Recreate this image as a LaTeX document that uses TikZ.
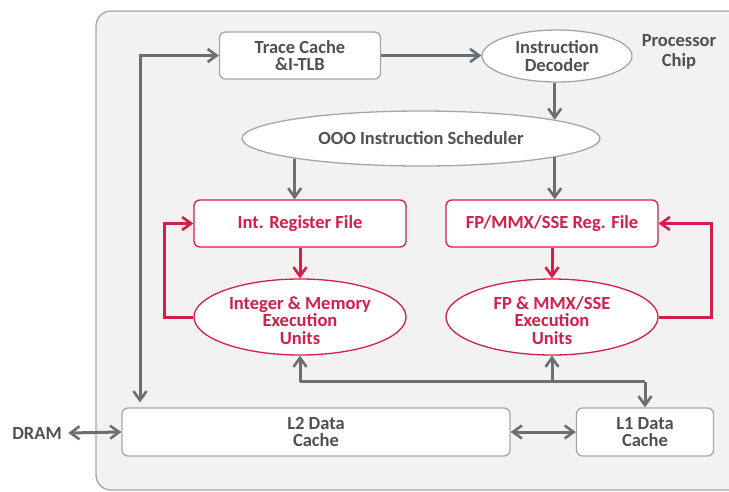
\documentclass[tikz,border=0pt]{standalone}
\usepackage{fontspec}
\setmainfont{Carlito}[BoldFont={Carlito Bold}]
\usetikzlibrary{arrows.meta,shapes.geometric}
\definecolor{chipfill}{HTML}{F2F2F2}
\definecolor{chipline}{HTML}{A6A6A6}
\definecolor{flow}{HTML}{6B6E73}
\definecolor{hot}{HTML}{D41F48}
\definecolor{txt}{HTML}{505050}

\begin{document}
\begin{tikzpicture}[x=1pt,y=-1pt,
  lbl/.style={font=\fontsize{18.5}{17.2}\selectfont\bfseries, text=txt, align=center},
  box/.style={lbl, draw=chipline, fill=white, rounded corners=6pt, line width=1.3pt, inner sep=0pt},
  oval/.style={lbl, ellipse, draw=chipline, fill=white, line width=1.3pt, inner sep=0pt},
  hotbox/.style={box, draw=hot, text=hot},
  hotoval/.style={oval, draw=hot, text=hot},
  tip/.tip={Straight Barb[length=9pt,width=13pt,line width=2.6pt]},
  link/.style={draw=flow, line width=3pt, -tip},
  linkboth/.style={draw=flow, line width=3pt, tip-tip},
  hotlink/.style={draw=hot, line width=3pt, -tip},
]
\useasboundingbox (0,0) rectangle (729,491);
\begin{scope}
  \clip (0,0) rectangle (729,491);
  % chip outline
  \draw[draw=chipline, fill=chipfill, rounded corners=15pt, line width=1.3pt]
    (96,11) rectangle (760,490);
\end{scope}

% blocks
\node[box, minimum width=161, minimum height=47] (tc) at (300,55.5) {Trace Cache\\\&I-TLB};
\node[oval, minimum width=150, minimum height=52] (dec) at (557,56) {Instruction\\Decoder};
\node[lbl] (chip) at (679,52) {Processor\\[3.5pt]Chip};
\node[oval, minimum width=358, minimum height=55] (ooo) at (421,138.5) {OOO Instruction Scheduler};
\node[hotbox, minimum width=212, minimum height=47] (irf) at (300,223.5) {Int. Register File};
\node[hotbox, minimum width=212, minimum height=47] (frf) at (552,223.5) {FP/MMX/SSE Reg. File};
\node[hotoval, minimum width=212, minimum height=76] (iex) at (300,317) {};
\node[lbl, text=hot] (iextext) at ([yshift=-3.5pt]iex.center) {Integer \& Memory\\Execution\\Units};
\node[hotoval, minimum width=212, minimum height=76] (fex) at (552,317) {};
\node[lbl, text=hot] (fextext) at ([yshift=-3.5pt]fex.center) {FP \& MMX/SSE\\Execution\\Units};
\node[box, minimum width=388, minimum height=48] (l2) at (316,432) {L2 Data\\Cache};
\node[box, minimum width=137, minimum height=48] (l1) at (645,432) {L1 Data\\Cache};
\node[lbl] (dram) at (37,433) {DRAM};

\coordinate (riser) at (140,0);
\coordinate (bus) at (0,381.5);

% front end
\draw[linkboth, shorten >=5pt] (tc.west) -- (tc.west -| riser) -- (riser |- l2.north);
\draw[link] (tc.east) -- (dec.west |- tc.east);
\draw[link] (ooo.8 |- dec.south) -- (ooo.8);
\draw[link] (ooo.189) -- (ooo.189 |- irf.north);
\draw[link] (ooo.352) -- (ooo.352 |- frf.north);

% register files and execution units
\draw[hotlink] (irf.south) -- (iex.north);
\draw[hotlink] (frf.south) -- (fex.north);
\draw[hotlink] (iex.west) -- ++(-29,0) |- (irf.west);
\draw[hotlink] (fex.east) -- ++(53,0) |- (frf.east);

% data bus
\draw[draw=flow, line width=3pt] (iex.south |- bus) -- (l1.north |- bus);
\draw[link] (iex.south |- bus) -- (iex.south);
\draw[link] (fex.south |- bus) -- (fex.south);
\draw[link] (l1.north |- bus) -- (l1.north);

% memory side
\draw[linkboth] (l2.east) -- (l1.west);
\draw[linkboth] (dram.east) ++(3,0) -- (l2.west);
\end{tikzpicture}
\end{document}
